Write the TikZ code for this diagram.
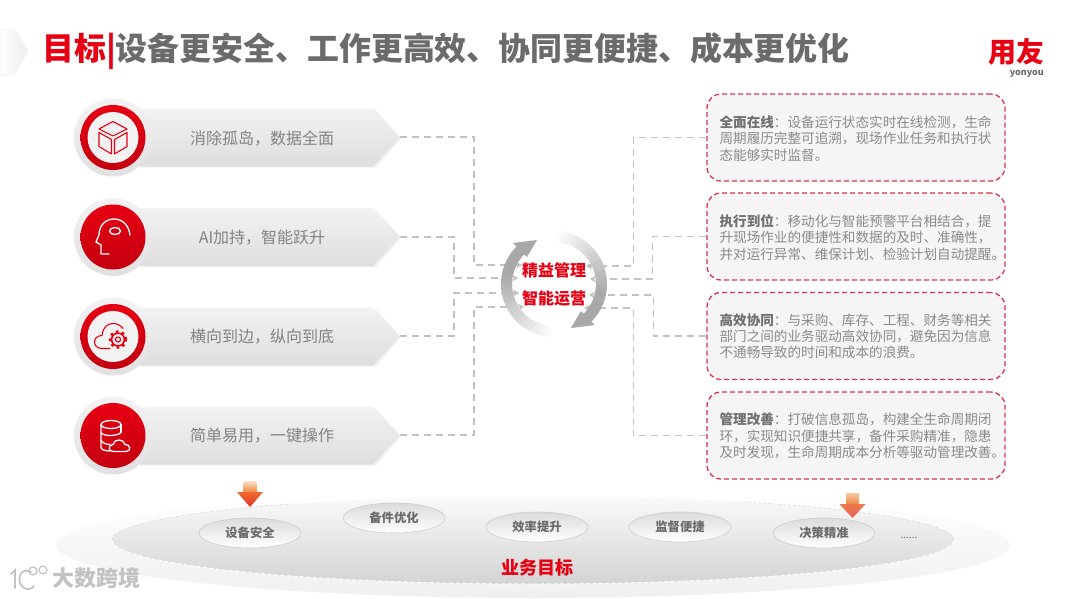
\documentclass[tikz,border=0pt]{standalone}
\usepackage{fontspec}
\setmainfont{Noto Sans CJK SC}
\usetikzlibrary{arrows.meta,calc,shapes.geometric}
\definecolor{yred}{HTML}{E60012}
\definecolor{ytitle}{HTML}{6B6B6B}
\definecolor{ytext}{HTML}{8A8A8A}
\definecolor{yterm}{HTML}{707070}
\definecolor{yline}{HTML}{C2C2C2}
\definecolor{ydash}{HTML}{D9364C}
\definecolor{aa}{HTML}{FBE0C8}
\definecolor{ab}{HTML}{F0883C}
\definecolor{ac}{HTML}{EE6A2C}
\definecolor{ad}{HTML}{E5332A}
\definecolor{ba}{HTML}{F7C8A0}
\definecolor{bb}{HTML}{EE8A4A}
\definecolor{bc}{HTML}{EC7A4A}
\definecolor{bd}{HTML}{E8605A}
\newcommand{\fs}[1]{\fontsize{#1}{#1}\selectfont}
\tikzset{
  conn/.style={draw=yline,line width=1.4pt,dash pattern=on 7pt off 5pt,-{Stealth[length=6pt,width=7pt,fill=yline]}},
  pent/.style={top color=black!5,bottom color=black!13,draw=none},
  pentshadow/.style={fill=black!5,draw=none},
  disc/.style={circle,minimum size=78pt,inner sep=0pt,top color=black!5,bottom color=black!12,draw=none},
  redfull/.style={circle,minimum size=65pt,inner sep=0pt,top color=yred,bottom color=yred!85!black,draw=none},
  innerw/.style={circle,minimum size=51pt,inner sep=0pt,fill=black!5,draw=none},
  lefttxt/.style={font=\fs{16},text=ytext!95!black,inner sep=0pt},
  infobox/.style={draw=ydash,fill=black!4,line width=1.3pt,dash pattern=on 5pt off 3pt,rounded corners=14pt,minimum width=298pt,minimum height=87pt,inner sep=0pt},
  infotxt/.style={font=\fontsize{13.6}{16.2}\selectfont,text=ytext,align=left,inner sep=0pt,anchor=west},
  chip/.style={ellipse,minimum width=102pt,minimum height=30pt,inner sep=0pt,top color=black!14,bottom color=white,draw=black!20,line width=.6pt,font=\bfseries\fs{12.3},text=ytitle},
  iconw/.style={draw=white,line width=1.3pt,line join=round,line cap=round},
  iconr/.style={draw=yred,line width=1.1pt,line join=round,line cap=round},
  hubtxt/.style={font=\bfseries\fs{16},text=yred,inner sep=0pt},
}
\newcommand{\term}[1]{{\bfseries\color{yterm}#1}}
\begin{document}
\begin{tikzpicture}[x=1pt,y=-1pt]
\useasboundingbox (0,0) rectangle (1080,598);
\fill[white] (0,0) rectangle (1080,598);

% top-left mark
\path[left color=white,right color=black!7,draw=black!5,line width=.8pt] (0,29) -- (14,29) -- (28,51) -- (14,75) -- (0,75) -- cycle;

% title and logo
\node[anchor=west,inner sep=0pt,font=\bfseries\fs{31.9},text=ytitle] (title) at (42,51) {{\color{yred}目标|}设备更安全、工作更高效、协同更便捷、成本更优化};
\node[inner sep=0pt,font=\bfseries\fs{28},text=yred] (logo) at (1016,52) {用友};
\node[anchor=east,inner sep=0pt,font=\bfseries\fontsize{9}{9}\selectfont,text=ytitle] (logosub) at (1044,73.5) {yonyou};

% bottom ellipses
\path[top color=white,bottom color=black!6,draw=none] (533,545) ellipse[x radius=477pt,y radius=53pt];
\path[top color=black!2,bottom color=black!17,draw=none] (533,540) ellipse[x radius=421pt,y radius=44pt];
\draw[white,line width=1pt,dash pattern=on 4pt off 2.5pt] (112,540) arc[start angle=180,end angle=360,x radius=421pt,y radius=44pt];
\draw[black!16,line width=.5pt,dash pattern=on 3pt off 2pt] (112,540) arc[start angle=180,end angle=125,x radius=421pt,y radius=44pt];
\draw[black!16,line width=.5pt,dash pattern=on 3pt off 2pt] (954,540) arc[start angle=0,end angle=60,x radius=421pt,y radius=44pt];

% connectors (free ends at the hub)
\coordinate (tip1) at (400,137);
\coordinate (tip2) at (400,237);
\coordinate (tip3) at (400,336);
\coordinate (tip4) at (400,435);
\coordinate (hl1) at (522,265);
\coordinate (hl2) at (518,278);
\coordinate (hl3) at (519,293);
\coordinate (hl4) at (524,307);
\coordinate (hr1) at (586,266);
\coordinate (hr2) at (590,279);
\coordinate (hr3) at (589,295);
\coordinate (hr4) at (584,308);

% info boxes
\node[infobox] (b1) at (856,137.5) {};
\node[infobox] (b2) at (856,236.5) {};
\node[infobox] (b3) at (856,336) {};
\node[infobox] (b4) at (856,435.5) {};
\node[infotxt] (t1) at ($(b1.west)+(13,1)$) {\term{全面在线}：设备运行状态实时在线检测，生命\\周期履历完整可追溯，现场作业任务和执行状\\态能够实时监督。};
\node[infotxt] (t2) at ($(b2.west)+(13,1)$) {\term{执行到位}：移动化与智能预警平台相结合，提\\升现场作业的便捷性和数据的及时、准确性，\\并对运行异常、维保计划、检验计划自动提醒。};
\node[infotxt] (t3) at ($(b3.west)+(13,0.5)$) {\term{高效协同}：与采购、库存、工程、财务等相关\\部门之间的业务驱动高效协同，避免因为信息\\不通畅导致的时间和成本的浪费。};
\node[infotxt] (t4) at ($(b4.west)+(13,0.5)$) {\term{管理改善}：打破信息孤岛，构建全生命周期闭\\环，实现知识便捷共享，备件采购精准，隐患\\及时发现，生命周期成本分析等驱动管理改善。};

\draw[conn] (tip1) -- ++(74,0) |- (hl1);
\draw[conn] (tip2) -- ++(54,0) |- (hl2);
\draw[conn] (tip3) -- ++(54,0) |- (hl3);
\draw[conn] (tip4) -- ++(74,0) |- (hl4);
\draw[conn] (b1.west) -- ++(-73,0) |- (hr1);
\draw[conn] (b2.west) -- ++(-54,0) |- (hr2);
\draw[conn] (b3.west) -- ++(-53,0) |- (hr3);
\draw[conn] (b4.west) -- ++(-73,0) |- (hr4);

% hub ring
\coordinate (hub) at (554,284);
\foreach \a in {270,267,...,135}{
  \pgfmathtruncatemacro{\m}{min(100,(270-\a)*1.0)}
  \pgfmathsetmacro{\e}{\a-3.6}
  \colorlet{seg}{black!\m!white}
  \colorlet{seg}{seg!34!white}
  \draw[seg,line width=11pt] (hub) ++(\a:47.5pt) arc[start angle=\a,end angle=\e,radius=47.5pt];
}
\foreach \a in {90,87,...,-45}{
  \pgfmathtruncatemacro{\m}{min(100,(90-\a)*1.0)}
  \pgfmathsetmacro{\e}{\a-3.6}
  \colorlet{seg}{black!\m!white}
  \colorlet{seg}{seg!34!white}
  \draw[seg,line width=11pt] (hub) ++(\a:47.5pt) arc[start angle=\a,end angle=\e,radius=47.5pt];
}
\fill[black!34] (537,240) -- (513,243) -- (527,257) -- cycle;
\fill[black!34] (571,328) -- (595,325) -- (581,311) -- cycle;
\node[hubtxt] (hub1) at (554,270.5) {精益管理};
\node[hubtxt] (hub2) at (554,298.5) {智能运营};

% left rows
\foreach \y/\i in {137.5/1,237/2,336.5/3,435.5/4}{
  \path[pentshadow] (140,\y-27) -- (376,\y-27) -- (401,\y+1) -- (376,\y+30) -- (140,\y+30) -- cycle;
  \path[pent] (140,\y-29) -- (373,\y-29) -- (400,\y) -- (373,\y+29) -- (140,\y+29) -- cycle;
  \node[disc] (disc\i) at (113,\y) {};
  \node[redfull] (red\i) at (113,\y) {};
}
\node[innerw] (in1) at (113,137.5) {};
\node[innerw] (in3) at (113,336.5) {};
\node[lefttxt] (l1) at (262,139) {消除孤岛，数据全面};
\node[lefttxt] (l2) at (262,238) {AI加持，智能跃升};
\node[lefttxt] (l3) at (262,337) {横向到边，纵向到底};
\node[lefttxt] (l4) at (262,436) {简单易用，一键操作};

% icon 1: cube
\begin{scope}[shift={(113,137.5)}]
\draw[iconr] (0,-16) -- (14,-8.5) -- (0,-1.5) -- (-14,-8.5) -- cycle;
\draw[iconr] (-14,-5) -- (-1.5,2) -- (-1.5,16.5) -- (-14,9) -- cycle;
\draw[iconr] (14,-5) -- (1.5,2) -- (1.5,16.5) -- (14,9) -- cycle;
\end{scope}
% icon 2: head
\begin{scope}[shift={(113,237)}]
\draw[iconw] (-4,17) -- (-12,17) -- (-12,8) -- (-17,5) -- (-14,-2) .. controls (-14,-12) and (-7,-18) .. (1,-18) .. controls (10,-18) and (16,-11) .. (17,-2);
\draw[iconw] (2,-6) ellipse[x radius=5.5pt,y radius=3.5pt];
\end{scope}
% icon 3: cloud and gear
\begin{scope}[shift={(113,336.5)}]
\draw[iconr] (-3,12) -- (-11,12) .. controls (-21,12) and (-21,-1) .. (-11,-1) .. controls (-10,-10) and (-5,-13) .. (0,-13) .. controls (4,-13) and (8,-11) .. (10,-8);
\draw[yred,line width=2.4pt,dash pattern=on 2.6pt off 3.4pt] (5,3) circle[radius=8pt];
\draw[iconr,line width=1.6pt] (5,3) circle[radius=6.4pt];
\draw[iconr] (5,3) circle[radius=2.6pt];
\end{scope}
% icon 4: database and cloud
\begin{scope}[shift={(113,435.5)}]
\draw[iconw] (-2,-11) ellipse[x radius=10pt,y radius=4pt];
\draw[iconw] (-12,-11) -- (-12,12) .. controls (-12,14) and (-8,15.5) .. (-3,15.5);
\draw[iconw] (8,-11) -- (8,-3);
\draw[iconw] (-12,-3) .. controls (-10,1) and (4,1) .. (8,-3);
\draw[iconw] (-12,5) .. controls (-10,8) and (-6,9) .. (-3,9);
\draw[iconw] (0,16) .. controls (-5,16) and (-5,9) .. (0,9) .. controls (1,3) and (11,3) .. (12,9) .. controls (17,8) and (19,16) .. (13,16) -- cycle;
\end{scope}

% chips
\node[chip] (c1) at (250,533) {设备安全};
\node[chip] (c2) at (394,518) {备件优化};
\node[chip] (c3) at (537,527) {效率提升};
\node[chip] (c4) at (680,527) {监督便捷};
\node[chip] (c5) at (824,533) {决策精准};
\node[inner sep=0pt,font=\fs{10},text=ytitle] (dots) at (909,538) {......};
\node[inner sep=0pt,font=\bfseries\fs{18},text=yred] (goal) at (537,567.5) {业务目标};

% down arrows
\path[top color=aa,bottom color=ab] (243.5,481) rectangle (256.5,492);
\path[top color=ac,bottom color=ad] (237,492) -- (263,492) -- (250,507) -- cycle;
\path[top color=ba,bottom color=bb] (846,493) rectangle (859,504);
\path[top color=bc,bottom color=bd] (839.5,504) -- (865.5,504) -- (852.5,518) -- cycle;

% watermark
\draw[black!24,line width=1.7pt,line cap=round] (11,574) -- (15,570) -- (15,588);
\draw[black!24,line width=1.7pt,line cap=round] (31,572) .. controls (20,566) and (15,582) .. (24,588) .. controls (28,590) and (32,589) .. (34,586);
\draw[black!24,line width=1.2pt] (33,571) circle[radius=4pt];
\draw[black!24,line width=1.2pt] (43,570) circle[radius=4pt];
\node[anchor=west,inner sep=0pt,font=\bfseries\fs{22},text=black!24] (wm) at (52,578) {大数跨境};
\end{tikzpicture}
\end{document}
